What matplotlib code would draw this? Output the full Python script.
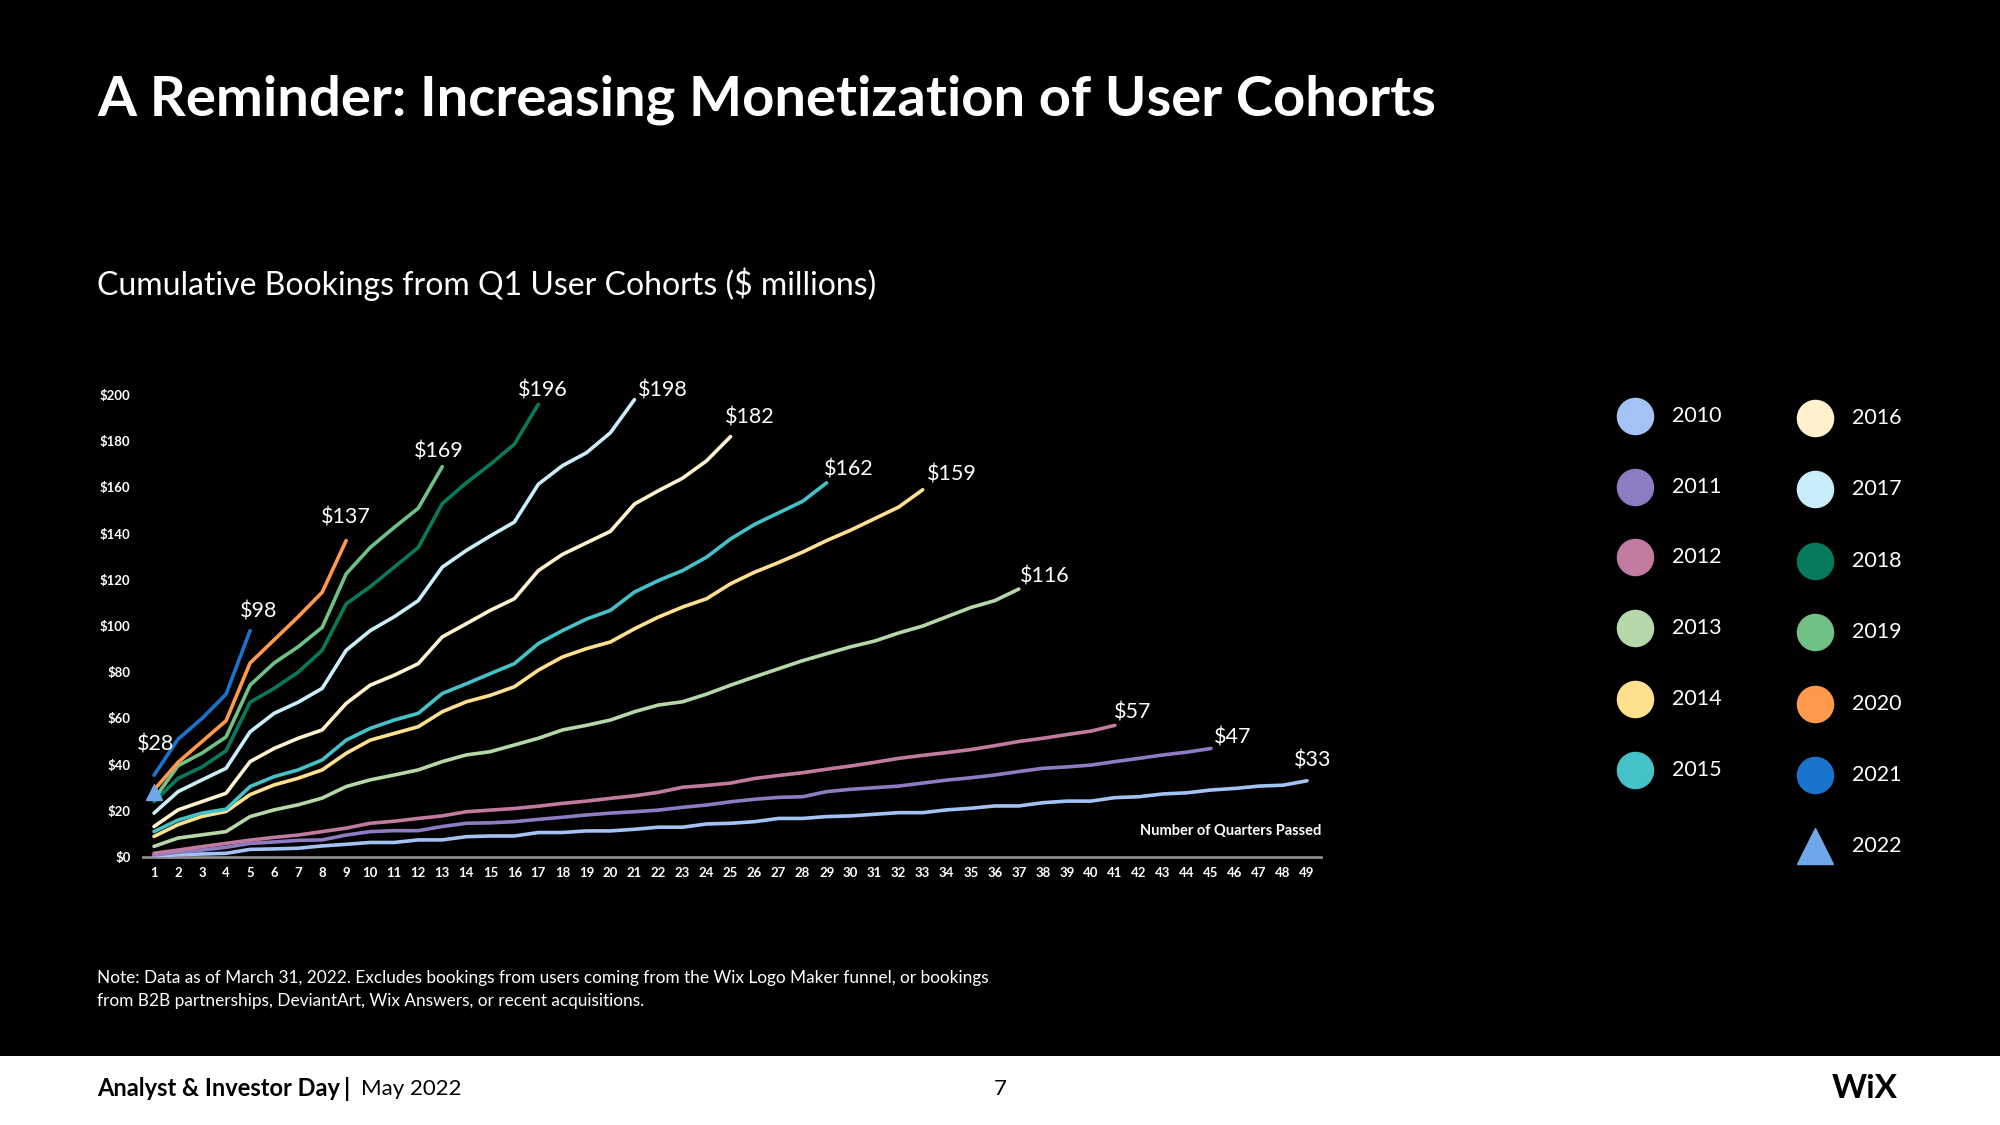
import matplotlib.pyplot as plt
from matplotlib.lines import Line2D
from matplotlib.patches import Rectangle

plt.rcParams['font.family'] = ['Lato', 'DejaVu Sans']

# cumulative bookings ($M) per quarter passed, Q1 cohorts
years = ['2010', '2011', '2012', '2013', '2014', '2015', '2016',
         '2017', '2018', '2019', '2020', '2021', '2022']

c2010 = [0.3, 1.0, 1.3, 1.6, 3.3, 3.5, 3.8, 4.8, 5.5, 6.3, 6.3, 7.4, 7.4, 8.8, 9.1, 9.1,
         10.6, 10.6, 11.3, 11.3, 12.0, 12.9, 12.9, 14.3, 14.6, 15.3, 16.7, 16.7, 17.5, 17.8,
         18.5, 19.2, 19.2, 20.4, 21.1, 22.1, 22.1, 23.5, 24.2, 24.2, 25.7, 26.1, 27.3, 27.8,
         29.0, 29.7, 30.7, 31.1, 33.0]
c2011 = [0.9, 2.0, 3.0, 4.2, 5.9, 6.5, 7.2, 7.4, 9.5, 11.0, 11.4, 11.4, 13.2, 14.6, 14.8,
         15.3, 16.3, 17.2, 18.2, 19.0, 19.6, 20.3, 21.5, 22.5, 23.9, 25.0, 25.8, 26.1, 28.3,
         29.3, 30.0, 30.7, 32.0, 33.3, 34.3, 35.5, 37.0, 38.4, 39.0, 39.8, 41.3, 42.7, 44.2,
         45.4, 47.0]
c2012 = [1.6, 3.0, 4.5, 5.9, 7.3, 8.5, 9.5, 11.0, 12.5, 14.6, 15.5, 16.7, 17.8, 19.6, 20.3,
         21.0, 22.0, 23.2, 24.2, 25.4, 26.5, 28.0, 30.2, 31.0, 32.0, 34.0, 35.3, 36.5, 38.0,
         39.4, 41.0, 42.7, 44.0, 45.2, 46.5, 48.2, 50.0, 51.4, 53.0, 54.5, 57.0]
c2013 = [4.6, 8.2, 9.6, 11.0, 17.5, 20.4, 22.6, 25.5, 30.5, 33.4, 35.5, 37.7, 41.3, 44.2,
         45.6, 48.5, 51.4, 55.0, 57.0, 59.3, 62.9, 65.8, 67.2, 70.5, 74.4, 78.0, 81.5, 85.0,
         88.0, 91.0, 93.5, 97.0, 100.0, 104.0, 108.0, 111.0, 116.0]
c2014 = [8.9, 14.0, 17.6, 19.7, 27.0, 31.2, 34.1, 37.7, 44.9, 50.6, 53.5, 56.4, 62.9, 67.2,
         70.0, 73.7, 80.9, 86.6, 90.2, 93.1, 98.8, 103.9, 108.2, 111.8, 118.3, 123.3, 127.5,
         132.0, 137.0, 141.5, 146.5, 151.5, 159.0]
c2015 = [11.0, 16.0, 19.0, 20.7, 30.5, 34.8, 37.7, 42.0, 50.6, 55.7, 59.3, 62.2, 70.8, 75.0,
         79.4, 83.7, 92.4, 98.0, 103.0, 106.8, 114.7, 119.7, 124.0, 129.8, 137.7, 144.0,
         149.0, 154.0, 162.0]
c2016 = [13.2, 20.4, 24.0, 27.6, 41.3, 47.0, 51.4, 55.0, 66.5, 74.4, 78.7, 83.7, 95.3, 101.0,
         106.8, 111.8, 124.0, 131.0, 136.0, 141.0, 152.8, 158.6, 164.0, 171.5, 182.0]
c2017 = [19.0, 28.3, 33.4, 38.4, 54.2, 62.2, 67.0, 73.0, 89.5, 98.0, 104.0, 111.0, 125.5,
         132.7, 139.0, 145.0, 161.4, 169.4, 175.0, 183.7, 198.0]
c2018 = [24.0, 34.0, 39.0, 46.0, 67.0, 73.0, 80.0, 89.5, 109.6, 117.0, 125.5, 134.0, 153.0,
         162.0, 170.0, 178.7, 196.0]
c2019 = [25.0, 39.5, 45.0, 52.0, 74.4, 84.0, 91.0, 99.4, 122.6, 134.0, 142.7, 151.0, 169.0]
c2020 = [29.0, 41.0, 50.0, 59.0, 84.0, 94.0, 104.0, 114.6, 137.0]
c2021 = [35.4, 51.0, 60.0, 70.5, 98.0]
c2022 = [28.0]

series = [c2010, c2011, c2012, c2013, c2014, c2015, c2016,
          c2017, c2018, c2019, c2020, c2021, c2022]

y_ticks = list(range(0, 201, 20))
x_ticks = list(range(1, 50))

colors = ['#a4c2f4', '#8e7cc3', '#c27ba0', '#b6d7a8', '#ffe08f', '#45c1c8', '#fff2cc',
          '#c9eefa', '#067a5b', '#6fc186', '#ff9a4d', '#1874cd', '#6fa8e8']
# end-label offsets in pixels (dx, dy)
label_off = [(6, 20), (22, 11), (18, 13), (26, 13), (29, 15), (22, 13), (19, 19),
             (28, 9), (4, 14), (-3, 15), (0, 23), (9, 19), (2, 48)]

W, H = 2000, 1125
fig = plt.figure(figsize=(20, 11.25), dpi=100, facecolor='black')

ax = fig.add_axes([143 / W, 1 - 857 / H, (1321 - 143) / W, (857 - 383.5) / H])
ax.set_facecolor('black')

for yr, vals, col, off in zip(years, series, colors, label_off):
    q = list(range(1, len(vals) + 1))
    if yr == '2022':
        ax.plot(q, vals, marker='^', color=col, markersize=11, linestyle='none', zorder=5)
    else:
        ax.plot(q, vals, color=col, linewidth=2.6, solid_capstyle='round', zorder=3)
    ax.annotate(f'${vals[-1]:.0f}', xy=(q[-1], vals[-1]), xytext=off,
                textcoords='offset pixels', ha='center', va='center',
                color='white', fontsize=15.5)

ax.set_xlim(0.542, 49.58)
ax.set_ylim(0, 205)
ax.set_xticks(x_ticks)
ax.set_xticklabels([str(t) for t in x_ticks])
ax.set_yticks(y_ticks)
ax.set_yticklabels([f'${t}' for t in y_ticks])
ax.tick_params(axis='both', length=0, colors='white', labelsize=9.5)
ax.tick_params(axis='x', pad=7)
ax.tick_params(axis='y', pad=9)
for lab in ax.get_xticklabels() + ax.get_yticklabels():
    lab.set_fontweight('bold')
for s in ['top', 'right', 'left']:
    ax.spines[s].set_visible(False)
ax.spines['bottom'].set_color('#8c8c8c')
ax.spines['bottom'].set_linewidth(2)

ax.text(1.0, 0.055, 'Number of Quarters Passed', transform=ax.transAxes,
        ha='right', va='center', color='white', fontsize=10.5, fontweight='bold')

# titles
fig.text(97 / W, 1 - 100 / H, 'A Reminder: Increasing Monetization of User Cohorts',
         color='white', fontsize=40.5, fontweight='bold', va='center', ha='left')
fig.text(97 / W, 1 - 284 / H, 'Cumulative Bookings from Q1 User Cohorts ($ millions)',
         color='white', fontsize=23, va='center', ha='left')

# note
fig.text(97 / W, 1 - 978 / H,
         'Note: Data as of March 31, 2022. Excludes bookings from users coming from the Wix Logo Maker funnel, or bookings',
         color='white', fontsize=12.4, va='center', ha='left')
fig.text(97 / W, 1 - 1001 / H,
         'from B2B partnerships, DeviantArt, Wix Answers, or recent acquisitions.',
         color='white', fontsize=12.4, va='center', ha='left')

# legend
for i, (yr, col) in enumerate(zip(years, colors)):
    if i < 6:
        mx, tx, my = 1635, 1672, 416 + i * 70.7
    else:
        mx, tx, my = 1815, 1852, 418 + (i - 6) * 71.4
    mk = '^' if yr == '2022' else 'o'
    fig.add_artist(Line2D([mx / W], [1 - my / H], marker=mk, markersize=26,
                          color=col, linestyle='none', transform=fig.transFigure))
    fig.text(tx / W, 1 - my / H, yr, color='white', fontsize=15.5, va='center', ha='left')

# footer
fig.add_artist(Rectangle((0, 0), 1, 69 / H, transform=fig.transFigure,
                         facecolor='white', edgecolor='none', zorder=0))
fig.text(97 / W, 1 - 1089 / H, 'Analyst & Investor Day', color='black',
         fontsize=17, fontweight='bold', va='center', ha='left')
fig.text(347 / W, 1 - 1089 / H, '|', color='black',
         fontsize=17, fontweight='bold', va='center', ha='center')
fig.text(361 / W, 1 - 1089 / H, 'May 2022', color='black',
         fontsize=16, va='center', ha='left')
fig.text(1000 / W, 1 - 1089 / H, '7', color='black', fontsize=16, va='center', ha='center')
fig.text(1898 / W, 1 - 1089 / H, 'WiX', color='black', fontsize=24, fontweight='bold',
         va='center', ha='right')

fig.savefig('out.png', dpi=100, facecolor='black')
